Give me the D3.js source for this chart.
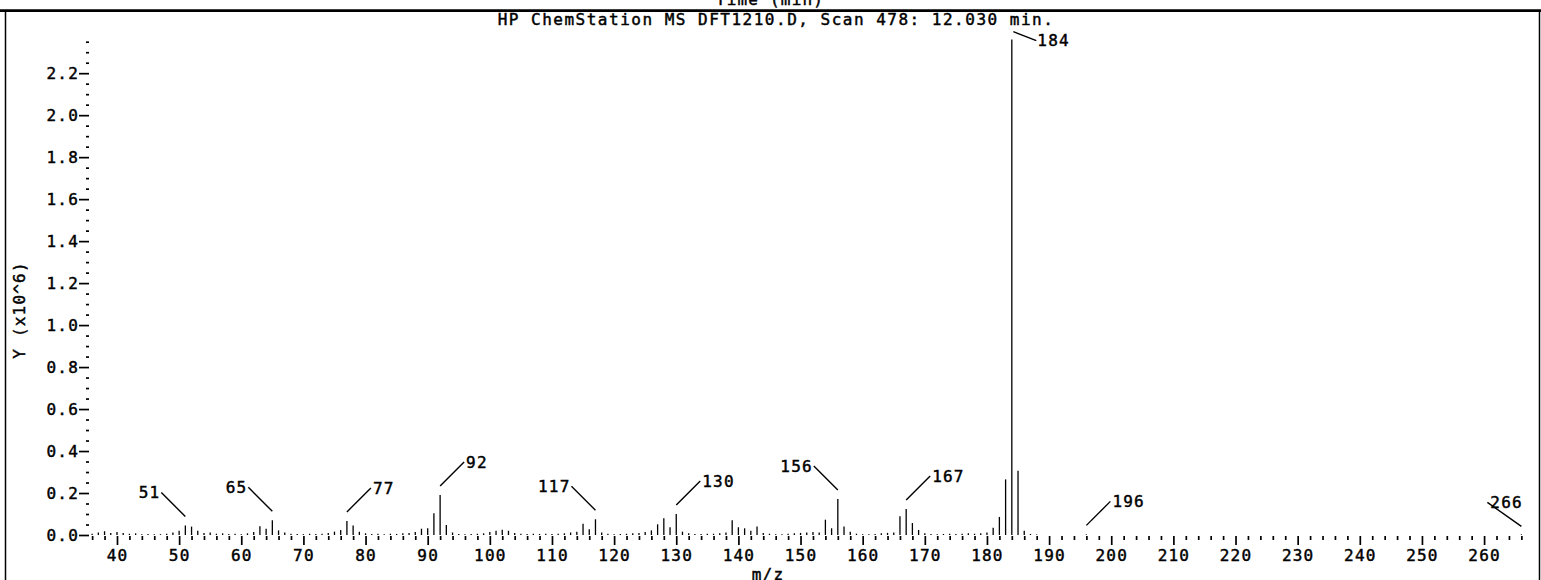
<!DOCTYPE html>
<html><head><meta charset="utf-8">
<script src="https://cdn.jsdelivr.net/npm/d3@7"></script>
<style>
body{margin:0;background:#fff}
svg{display:block;background:#fff}
text{font-family:"DejaVu Sans Mono",monospace;font-size:16px;letter-spacing:1.2px;fill:#000;stroke:#000;stroke-width:0.45px}
</style>
</head><body>
<svg id="chart" width="1541" height="580"></svg>
<script>
// ---- data (m/z, abundance in units of 10^6) ----
const mzValues = [36,37,38,39,40,41,42,43,44,45,46,47,48,49,50,51,52,53,54,55,56,57,58,59,60,
  61,62,63,64,65,66,67,68,69,70,71,72,73,74,75,76,77,78,79,80,81,82,83,84,85,86,87,88,89,90,
  91,92,93,94,95,96,97,98,99,100,101,102,103,104,105,106,107,108,109,110,111,112,113,114,115,
  116,117,118,119,120,121,122,123,124,125,126,127,128,129,130,131,132,133,134,135,136,137,138,
  139,140,141,142,143,144,145,146,147,148,149,150,151,152,153,154,155,156,157,158,159,160,161,
  162,163,164,165,166,167,168,169,170,171,172,173,174,175,176,177,178,179,180,181,182,183,184,
  185,186,187,188,196,266];
const abundance = [0.006,0.012,0.018,0.010,0.014,0.010,0.006,0.008,0.004,0.005,0.003,0.004,0.006,0.012,0.020,
  0.045,0.040,0.020,0.010,0.012,0.006,0.008,0.005,0.006,0.004,
  0.008,0.014,0.042,0.030,0.070,0.022,0.012,0.006,0.005,0.004,0.006,0.005,0.006,0.010,0.016,0.024,
  0.067,0.045,0.016,0.008,0.005,0.006,0.004,0.006,0.005,0.008,0.010,0.014,0.030,0.032,
  0.104,0.190,0.048,0.012,0.005,0.004,0.005,0.006,0.008,0.014,0.020,0.025,0.020,0.010,0.006,
  0.005,0.006,0.005,0.006,0.005,0.006,0.008,0.012,0.016,0.053,
  0.027,0.075,0.012,0.006,0.004,0.005,0.006,0.008,0.010,0.014,0.022,0.051,0.080,0.037,0.100,
  0.016,0.008,0.005,0.005,0.006,0.006,0.008,0.012,
  0.070,0.037,0.032,0.020,0.040,0.010,0.006,0.004,0.004,0.006,0.008,0.010,0.012,0.014,0.012,
  0.073,0.032,0.172,0.041,0.016,0.006,0.004,0.004,
  0.005,0.008,0.010,0.012,0.089,0.124,0.057,0.024,0.008,0.005,0.004,0.005,0.006,0.005,0.006,
  0.008,0.006,0.008,0.012,0.035,0.086,0.265,2.360,
  0.306,0.020,0.005,0.002,0.003,0.003];
const labelMz = [51,65,77,92,117,130,156,167,184,196,266];
const xTickLabels = [40,50,60,70,80,90,100,110,120,130,140,150,160,170,180,190,200,210,220,230,240,250,260];
const yTickValues = [0,0.2,0.4,0.6,0.8,1.0,1.2,1.4,1.6,1.8,2.0,2.2];
const yTickLabels = ["0.0","0.2","0.4","0.6","0.8","1.0","1.2","1.4","1.6","1.8","2.0","2.2"];
const titleText = "HP ChemStation MS DFT1210.D, Scan 478: 12.030 min.";
const topText = "Time (min)";
const xTitle = "m/z";
const yTitle = "Y (x10^6)";

// ---- drawing ----
const svg = d3.select("#chart");
const W = 1541, H = 580;
const x = d3.scaleLinear().domain([35.4, 268]).range([88.4, 1533.8]);
const y = d3.scaleLinear().domain([0, 2.35]).range([535, 41.7]);

// frame
svg.append("line").attr("x1",0).attr("x2",W).attr("y1",10.6).attr("y2",10.6)
  .attr("stroke","#000").attr("stroke-width",2.7);
svg.append("line").attr("x1",5.5).attr("x2",5.5).attr("y1",10).attr("y2",H)
  .attr("stroke","#000").attr("stroke-width",1.5);
svg.append("line").attr("x1",1539.5).attr("x2",1539.5).attr("y1",10).attr("y2",H)
  .attr("stroke","#000").attr("stroke-width",1.5);

svg.append("text").attr("x",770).attr("y",4.5).attr("text-anchor","middle").text(topText);
svg.append("text").attr("x",776).attr("y",24.8).attr("text-anchor","middle")
  .style("letter-spacing","1.5px").text(titleText);

// x axis: major + minor ticks, no domain line
const xMajor = d3.axisBottom(x).tickValues(xTickLabels).tickSize(9).tickPadding(4.5)
  .tickFormat((d,i)=>String(xTickLabels[i]));
const gx = svg.append("g").attr("transform","translate(0,536)").call(xMajor);
const minorX = d3.range(36, 267, 2).filter(v => v % 10 !== 0);
const gxm = svg.append("g").attr("transform","translate(0,536)")
  .call(d3.axisBottom(x).tickValues(minorX).tickSize(4).tickFormat(""));

// y axis
const yMajor = d3.axisLeft(y).tickValues(yTickValues).tickSize(10).tickPadding(0)
  .tickFormat((d,i)=>yTickLabels[i]);
const gy = svg.append("g").attr("transform","translate(89,0)").call(yMajor);
const minorY = d3.range(0, 2.351, 0.05).filter(v => Math.abs(v*5 - Math.round(v*5)) > 1e-6);
const gym = svg.append("g").attr("transform","translate(89,0)")
  .call(d3.axisLeft(y).tickValues(minorY).tickSize(3).tickFormat(""));

[gx,gxm,gy,gym].forEach(g=>{
  g.select(".domain").remove();
  g.selectAll(".tick line").attr("stroke","#000").attr("stroke-width",1.7);
  g.selectAll(".tick text").attr("fill","#000").attr("font-size",null).attr("font-family",null);
  g.attr("font-size",null).attr("font-family",null);
});

// axis titles
svg.append("text").attr("x",768).attr("y",580).attr("text-anchor","middle").text(xTitle);
svg.append("text").attr("transform","translate(19,310) rotate(-90)")
  .attr("text-anchor","middle").attr("dy","0.36em").text(yTitle);

// spectrum sticks
const peaks = mzValues.map((m,i)=>({m, v:abundance[i]}));
svg.append("g").selectAll("line").data(peaks).join("line")
  .attr("x1",d=>x(d.m)).attr("x2",d=>x(d.m))
  .attr("y1",y(0)).attr("y2",d=>y(d.v))
  .attr("stroke","#000").attr("stroke-width",1.3);

// peak labels with leader lines
const leftUp = new Set([51,65,117,156]);
const lg = svg.append("g");
labelMz.forEach(m=>{
  const v = abundance[mzValues.indexOf(m)];
  const px = x(m), py = y(v);
  let sx = px, sy = py - 9, ex, ey, tx, anchor = "start";
  if (m === 184) {
    sx = px + 1.5; sy = py - 8; ex = sx + 23; ey = sy + 9; tx = ex + 1;
  } else if (m === 266) {
    sy = py - 8; ex = sx - 34; ey = sy - 24; tx = ex + 3;
  } else if (leftUp.has(m)) {
    ex = sx - 24; ey = sy - 24; tx = ex - 1; anchor = "end";
  } else {
    ex = sx + 24; ey = sy - 24; tx = ex + 2;
  }
  lg.append("line").attr("x1",sx).attr("y1",sy).attr("x2",ex).attr("y2",ey)
    .attr("stroke","#000").attr("stroke-width",1.4);
  lg.append("text").attr("x",tx).attr("y",ey).attr("dy","0.36em")
    .attr("text-anchor",anchor).text(String(m));
});
</script>
</body></html>
